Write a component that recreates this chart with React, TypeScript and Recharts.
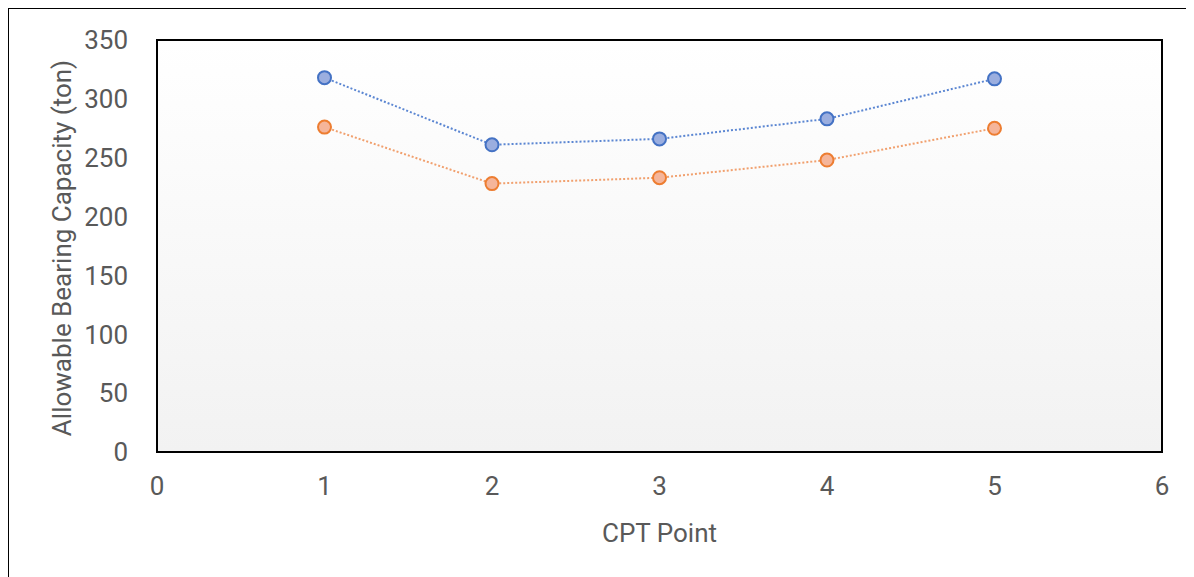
import React from 'react';
import { LineChart, Line, XAxis, YAxis, ReferenceArea, Label } from 'recharts';

const cptPoints = [1, 2, 3, 4, 5];
const seriesA = [318, 261, 266, 283, 317];
const seriesB = [276, 228, 233, 248, 275];
const xTicks = [0, 1, 2, 3, 4, 5, 6];
const yTicks = [0, 50, 100, 150, 200, 250, 300, 350];

const data = cptPoints.map((p, i) => ({ x: p, a: seriesA[i], b: seriesB[i] }));

const FONT = 'Roboto, "Open Sans", sans-serif';
const TXT = '#595959';
const FS = 26;

export default function App() {
  return (
    <div style={{ borderLeft: '1px solid #000', borderTop: '1px solid #000', width: 1190, height: 575, fontFamily: FONT }}>
      <style>{'html,body{overflow:hidden;}'}</style>
      <LineChart width={1190} height={575} data={data} margin={{ top: 31, right: 37, left: 88, bottom: 72 }}>
        <defs>
          <linearGradient id="bgGrad" x1="0" y1="0" x2="0" y2="1">
            <stop offset="0%" stopColor="#FFFFFF" />
            <stop offset="100%" stopColor="#F2F2F2" />
          </linearGradient>
        </defs>
        <XAxis
          type="number"
          dataKey="x"
          domain={[0, 6]}
          ticks={xTicks}
          height={60}
          axisLine={false}
          tickLine={false}
          tickSize={0}
          tickMargin={25}
          tick={{ fill: TXT, fontSize: FS, fontFamily: FONT }}
          interval={0}
        >
          <Label
            content={() => (
              <text x={148 + (1153 - 148) / 2} y={524} textAnchor="middle" dominantBaseline="central" fill={TXT} fontSize={FS} fontFamily={FONT}>
                CPT Point
              </text>
            )}
          />
        </XAxis>
        <YAxis
          type="number"
          domain={[0, 350]}
          ticks={yTicks}
          width={60}
          axisLine={false}
          tickLine={false}
          tickSize={0}
          tickMargin={29}
          tick={{ fill: TXT, fontSize: FS, fontFamily: FONT }}
          interval={0}
        >
          <Label
            content={() => (
              <text x={53} y={239} transform="rotate(-90 53 239)" textAnchor="middle" dominantBaseline="central" fill={TXT} fontSize={FS} fontFamily={FONT}>
                Allowable Bearing Capacity (ton)
              </text>
            )}
          />
        </YAxis>
        <ReferenceArea x1={0} x2={6} y1={0} y2={350} fill="url(#bgGrad)" fillOpacity={1} stroke="#000" strokeWidth={2} ifOverflow="visible" />
        <Line
          dataKey="a"
          stroke="#5B86D2"
          strokeWidth={2}
          strokeDasharray="2 2"
          dot={{ r: 6.5, fill: '#9BAEDF', stroke: '#4472C4', strokeWidth: 2, strokeDasharray: '' }}
          isAnimationActive={false}
        />
        <Line
          dataKey="b"
          stroke="#F1A06E"
          strokeWidth={2}
          strokeDasharray="2 2"
          dot={{ r: 6.5, fill: '#F5B59A', stroke: '#ED7D31', strokeWidth: 2, strokeDasharray: '' }}
          isAnimationActive={false}
        />
      </LineChart>
    </div>
  );
}
